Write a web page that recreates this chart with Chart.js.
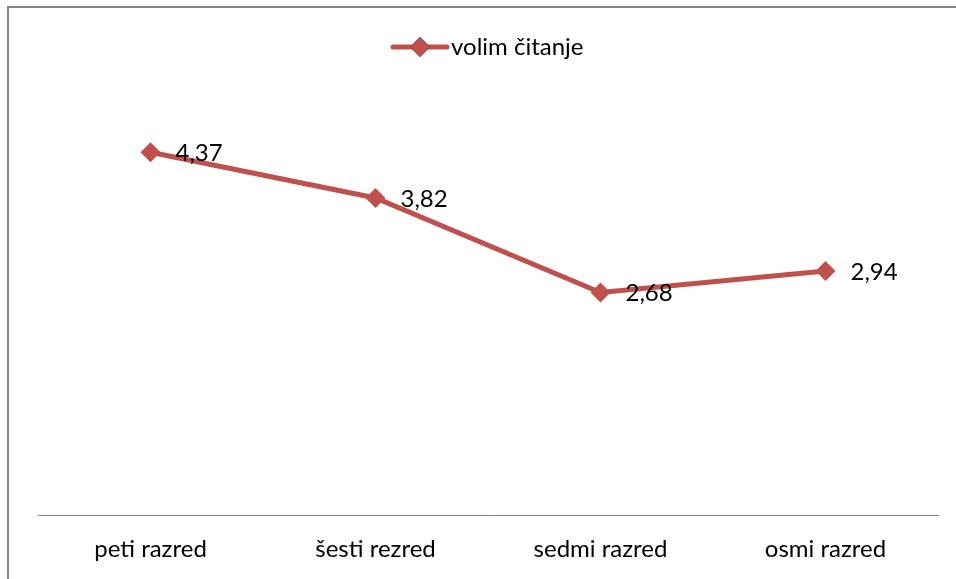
<!DOCTYPE html>
<html>
<head>
<meta charset="utf-8">
<script src="https://cdn.jsdelivr.net/npm/chart.js@4.4.0/dist/chart.umd.min.js"></script>
<style>
    html, body { margin: 0; padding: 0; background: #fff; overflow: hidden; }
    #frame {
        position: absolute; left: 7px; top: 6px; width: 960px; height: 600px;
        border-top: 2px solid #868686; border-left: 2px solid #868686;
    }
    #wrap { position: absolute; left: 0; top: 0; width: 956px; height: 579px; }
</style>
</head>
<body>
<div id="frame"></div>
<div id="wrap"><canvas id="c" width="956" height="579"></canvas></div>
<script>
    'use strict';

    var categories = ['peti razred', 'šesti rezred', 'sedmi razred', 'osmi razred'];
    var seriesName = 'volim čitanje';
    var seriesValues = [4.37, 3.82, 2.68, 2.94];

    var red = '#C0504D';
    var fontFamily = 'Lato, "Open Sans", sans-serif';
    var fontSize = 24;

    // values written like "4,37"
    function fmt(v) {
        return v.toFixed(2).replace('.', ',');
    }

    var labelsPlugin = {
        id: 'pointLabels',
        afterDatasetsDraw: function (chart) {
            var ctx = chart.ctx;
            var meta = chart.getDatasetMeta(0);
            var data = chart.data.datasets[0].data;
            ctx.save();
            ctx.font = fontSize + 'px ' + fontFamily;
            ctx.fillStyle = '#000';
            ctx.textAlign = 'left';
            ctx.textBaseline = 'middle';
            meta.data.forEach(function (pt, i) {
                ctx.fillText(fmt(data[i]), pt.x + 25, pt.y + 1);
            });
            ctx.restore();
        }
    };

    var legendPlugin = {
        id: 'topLegend',
        afterDraw: function (chart) {
            var ctx = chart.ctx;
            var ds = chart.data.datasets[0];
            var y = 47;
            ctx.save();
            ctx.strokeStyle = ds.borderColor;
            ctx.lineWidth = 5;
            ctx.lineCap = 'round';
            ctx.beginPath();
            ctx.moveTo(393, y);
            ctx.lineTo(447, y);
            ctx.stroke();
            Chart.helpers.drawPoint(ctx, { pointStyle: 'rectRot', radius: 10, borderWidth: 0 }, 420, y);
            ctx.fillStyle = ds.borderColor;
            ctx.fill();
            ctx.font = fontSize + 'px ' + fontFamily;
            ctx.fillStyle = '#000';
            ctx.textBaseline = 'middle';
            ctx.fillText(ds.label, 451, y);
            ctx.restore();
        }
    };

    new Chart(document.getElementById('c'), {
        type: 'line',
        data: {
            labels: categories,
            datasets: [{
                label: seriesName,
                data: seriesValues,
                borderColor: red,
                backgroundColor: red,
                borderWidth: 5,
                pointStyle: 'rectRot',
                pointRadius: 10,
                pointBorderWidth: 0,
                pointBackgroundColor: red,
                tension: 0
            }]
        },
        options: {
            responsive: false,
            animation: false,
            events: [],
            layout: { padding: { top: 100, left: 38, right: 18, bottom: 0 } },
            plugins: {
                legend: { display: false },
                tooltip: { enabled: false }
            },
            scales: {
                x: {
                    offset: true,
                    grid: { display: false, drawTicks: false },
                    border: { display: true, color: '#808080', width: 1 },
                    ticks: {
                        color: '#000',
                        padding: 20,
                        maxRotation: 0,
                        font: { family: fontFamily, size: fontSize }
                    },
                    afterFit: function (scale) {
                        scale.height = 64;
                    }
                },
                y: {
                    display: false,
                    min: 0,
                    max: 5
                }
            }
        },
        plugins: [labelsPlugin, legendPlugin]
    });
</script>
</body>
</html>
